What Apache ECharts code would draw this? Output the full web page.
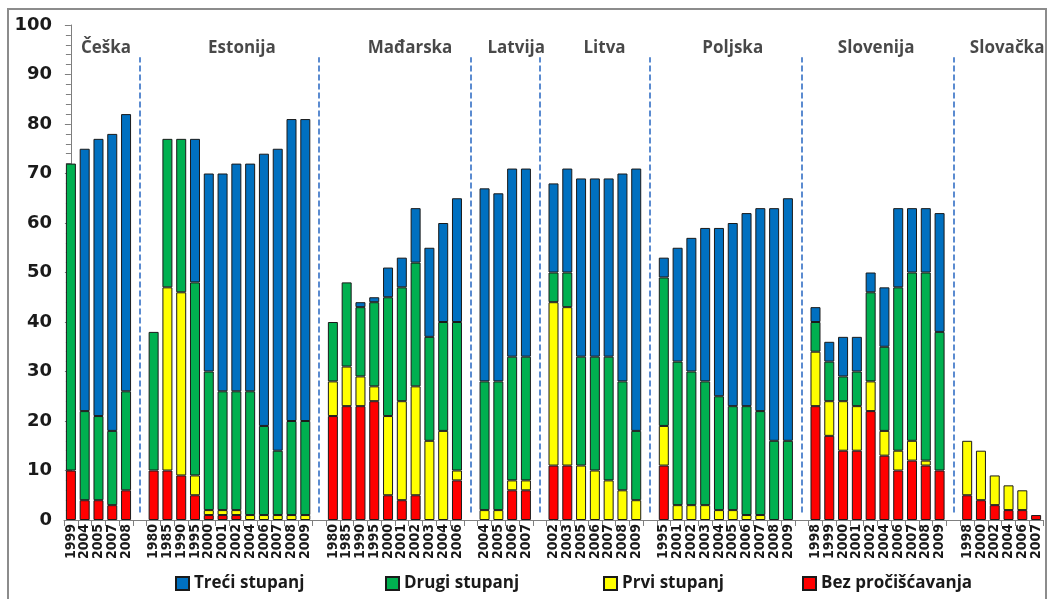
<!DOCTYPE html>
<html><head><meta charset="utf-8">
<script src="https://cdn.jsdelivr.net/npm/echarts@6/dist/echarts.min.js"></script>
<style>html,body{margin:0;padding:0;background:#fff}#c{width:1050px;height:599px}</style>
</head><body><div id="c"></div>
<script>
const countries = ['Češka','Estonija','Mađarska','Latvija','Litva','Poljska','Slovenija','Slovačka'];
const years = [
  ['1999','2004','2005','2007','2008'],
  ['1980','1985','1990','1995','2000','2001','2002','2004','2006','2007','2008','2009'],
  ['1980','1985','1990','1995','2000','2001','2002','2003','2004','2006'],
  ['2004','2005','2006','2007'],
  ['2002','2003','2005','2006','2007','2008','2009'],
  ['1995','2001','2002','2003','2004','2005','2006','2007','2008','2009'],
  ['1998','1999','2000','2001','2002','2004','2006','2007','2008','2009'],
  ['1998','2000','2002','2004','2006','2007']
];
// Bez pročišćavanja
const bez = [10,4,4,3,6,
  10,10,9,5,1,1,1,0,0,0,0,0,
  21,23,23,24,5,4,5,0,0,8,
  0,0,6,6,
  11,11,0,0,0,0,0,
  11,0,0,0,0,0,0,0,0,0,
  23,17,14,14,22,13,10,12,11,10,
  5,4,3,2,2,1];
// Prvi stupanj
const prvi = [0,0,0,0,0,
  0,37,37,4,1,1,1,1,1,1,1,1,
  7,8,6,3,16,20,22,16,18,2,
  2,2,2,2,
  33,32,11,10,8,6,4,
  8,3,3,3,2,2,1,1,0,0,
  11,7,10,9,6,5,4,4,1,0,
  11,10,6,5,4,0];
// Drugi stupanj
const drugi = [62,18,17,15,20,
  28,30,31,39,28,24,24,25,18,13,19,19,
  12,17,14,17,24,23,25,21,22,30,
  26,26,25,25,
  6,7,22,23,25,22,14,
  30,29,27,25,23,21,22,21,16,16,
  6,8,5,7,18,17,33,34,38,28,
  0,0,0,0,0,0];
// Treći stupanj
const treci = [0,53,56,60,56,
  0,0,0,29,40,44,46,46,55,61,61,61,
  0,0,1,1,6,6,11,18,20,25,
  39,38,38,38,
  18,21,36,36,36,42,53,
  4,23,27,31,34,37,39,41,47,49,
  3,4,8,7,4,12,16,13,13,24,
  0,0,0,0,0,0];
const labelPos = [2.55,12.4,24.6,32.3,38.7,48.0,58.4,67.9];
const legendNames = ['Treći stupanj','Drugi stupanj','Prvi stupanj','Bez pročišćavanja'];

// build categories with a blank category between countries
const cats = [], idxMap = [], gaps = [];
let k = 0;
years.forEach((ys, ci) => {
  if (ci > 0) { gaps.push(cats.length); cats.push(''); idxMap.push(null); }
  ys.forEach(y => { cats.push(y); idxMap.push(k++); });
});
const mk = arr => idxMap.map(i => (i === null ? null : (arr[i] === 0 ? null : arr[i])));
const nCat = cats.length;

const ff = '"Open Sans", "DejaVu Sans", sans-serif';
const border = {borderColor:'#1a1a1a', borderWidth:1};
const barS = (name, arr, color) => ({
  name, type:'bar', stack:'s', data: mk(arr), barWidth:10,
  itemStyle: Object.assign({color}, border), emphasis:{disabled:true}
});
const legendLeft = [170, 380, 598, 797];

const chart = echarts.init(document.getElementById('c'), null, {renderer:'canvas'});
chart.setOption({
  animation:false,
  backgroundColor:'#fff',
  grid:{left:64, right:7, top:25, bottom:79},
  legend: legendNames.map((n,i)=>({
    data:[n], left:legendLeft[i], top:570, itemWidth:13, itemHeight:13, icon:'rect',
    textStyle:{fontFamily:ff, fontWeight:'bold', fontSize:17, color:'#1a1a1a'}
  })),
  xAxis:[{
    type:'category', data:cats, boundaryGap:true,
    axisLine:{lineStyle:{color:'#7f7f7f', width:1}},
    axisTick:{show:true, interval:0, length:6, lineStyle:{color:'#7f7f7f'}},
    axisLabel:{interval:0, rotate:90, margin:4, fontFamily:'"DejaVu Sans Condensed", "Liberation Sans Narrow", "DejaVu Sans", sans-serif', fontWeight:'bold', fontSize:14, color:'#1a1a1a'}
  },{
    type:'value', show:false, min:-0.5, max:nCat-0.5
  }],
  yAxis:{
    type:'value', min:0, max:100, interval:10,
    splitLine:{show:false},
    axisLine:{show:true, lineStyle:{color:'#7f7f7f', width:1}},
    axisTick:{show:true, length:6, lineStyle:{color:'#7f7f7f'}},
    minorTick:{show:true, splitNumber:5, length:5, lineStyle:{color:'#7f7f7f'}},
    axisLabel:{margin:12, fontFamily:'"DejaVu Sans", sans-serif', fontWeight:'bold', fontSize:18, color:'#1a1a1a'}
  },
  series:[
    barS('Bez pročišćavanja', bez, '#FF0000'),
    barS('Prvi stupanj', prvi, '#FFFF00'),
    barS('Drugi stupanj', drugi, '#00B050'),
    barS('Treći stupanj', treci, '#0070C0'),
    {
      type:'scatter', xAxisIndex:1, symbolSize:0, silent:true,
      data: countries.map((c,i)=>({name:c, value:[labelPos[i], 95.4]})),
      label:{show:true, position:'inside', formatter:'{b}', fontFamily:ff, fontWeight:'bold', fontSize:17, color:'#1a1a1a'},
      markLine:{
        silent:true, symbol:'none', label:{show:false},
        lineStyle:{type:[6,3], width:2, color:'#5b8bd0'},
        data: gaps.map(g => [{coord:[g, 1.5]}, {coord:[g, 93.5]}])
      }
    }
  ],
  graphic:[{
    type:'rect', shape:{x:8, y:9, width:1038, height:600},
    style:{fill:'none', stroke:'#8c8c8c', lineWidth:2}, silent:true, z:100
  }]
});
</script></body></html>
